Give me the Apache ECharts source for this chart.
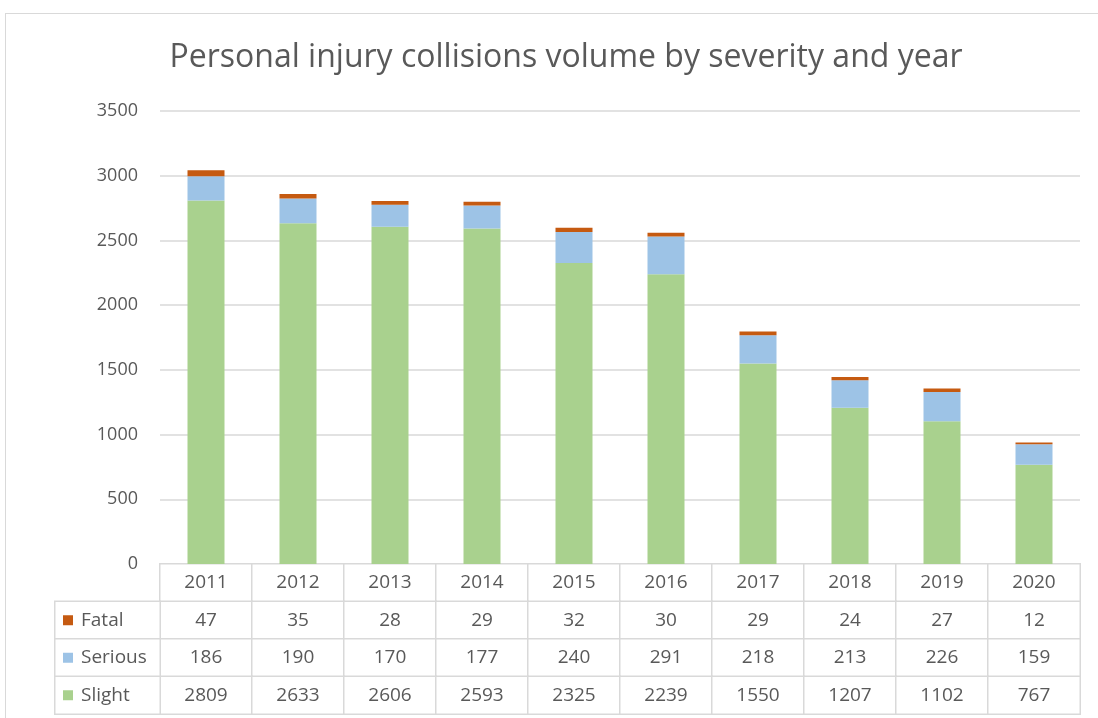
<!DOCTYPE html>
<html>
<head>
<meta charset="utf-8">
<script src="https://cdn.jsdelivr.net/npm/echarts@6/dist/echarts.min.js"></script>
<style>
html,body{margin:0;padding:0;background:#fff;}
#frame{position:absolute;left:5px;top:13px;width:1200px;height:800px;border-left:1px solid #d9d9d9;border-top:1px solid #d9d9d9;}
#chart{position:absolute;left:0;top:0;width:1098px;height:718px;}
</style>
</head>
<body>
<div id="frame"></div>
<div id="chart"></div>
<script>
const years = ['2011','2012','2013','2014','2015','2016','2017','2018','2019','2020'];
const fatal = [47,35,28,29,32,30,29,24,27,12];
const serious = [186,190,170,177,240,291,218,213,226,159];
const slight = [2809,2633,2606,2593,2325,2239,1550,1207,1102,767];
const severities = ['Fatal','Serious','Slight'];
const yTicks = {min:0, max:3500, interval:500};

const colors = {Fatal:'#C55A11', Serious:'#9DC3E6', Slight:'#A9D18E'};
const txt = '#595959';
const gridC = '#D9D9D9';
const FONT = 'Open Sans';

const rowsData = {Fatal:fatal, Serious:serious, Slight:slight};
const tableData = [];
years.forEach((y,i)=>{ tableData.push([i,0,Number(y)]); });
severities.forEach((s,r)=>{ rowsData[s].forEach((v,i)=>tableData.push([i,r+1,v])); });
const legendData = severities.map((s,r)=>[0,r,r]);

const chart = echarts.init(document.getElementById('chart'));
chart.setOption({
  animation:false,
  textStyle:{fontFamily:FONT},
  title:{
    text:'Personal injury collisions volume by severity and year',
    left:561, top:37, textAlign:'center',
    textStyle:{fontFamily:FONT, fontSize:32, fontWeight:'normal', color:txt}
  },
  grid:[
    {left:160, right:18, top:111, height:453},
    {left:160, right:18, top:564, height:150},
    {left:55, width:105, top:601.5, height:112.5}
  ],
  xAxis:[
    {gridIndex:0, type:'category', data:years, axisLine:{show:false}, axisTick:{show:false}, axisLabel:{show:false}},
    {gridIndex:1, type:'category', data:years, show:false},
    {gridIndex:2, type:'category', data:['legend'], show:false}
  ],
  yAxis:[
    {gridIndex:0, type:'value', min:yTicks.min, max:yTicks.max, interval:yTicks.interval,
      axisLine:{show:false}, axisTick:{show:false},
      axisLabel:{color:txt, fontSize:18, margin:22, fontFamily:FONT, formatter:v=>String(v)},
      splitLine:{lineStyle:{color:gridC, width:1.5}}},
    {gridIndex:1, type:'category', data:['Year'].concat(severities), inverse:true, show:false},
    {gridIndex:2, type:'category', data:severities, inverse:true, show:false}
  ],
  series:[
    {name:'Slight', type:'bar', stack:'t', data:slight, barWidth:37, itemStyle:{color:colors.Slight}, xAxisIndex:0, yAxisIndex:0},
    {name:'Serious', type:'bar', stack:'t', data:serious, barWidth:37, itemStyle:{color:colors.Serious}, xAxisIndex:0, yAxisIndex:0},
    {name:'Fatal', type:'bar', stack:'t', data:fatal, barWidth:37, itemStyle:{color:colors.Fatal}, xAxisIndex:0, yAxisIndex:0},
    {type:'heatmap', xAxisIndex:1, yAxisIndex:1, data:tableData, silent:true,
      itemStyle:{color:'#fff', borderColor:gridC, borderWidth:1.5},
      label:{show:true, color:txt, fontSize:19, fontFamily:FONT, formatter:p=>String(p.value[2])},
      emphasis:{disabled:true}},
    {type:'heatmap', xAxisIndex:2, yAxisIndex:2, data:legendData, silent:true,
      itemStyle:{color:'#fff', borderColor:gridC, borderWidth:1.5},
      label:{show:true, position:'insideLeft', distance:9, color:txt, fontSize:19, fontFamily:FONT,
        formatter:p=>'{m'+p.value[2]+'|}{t|'+severities[p.value[2]]+'}',
        rich:{
          m0:{backgroundColor:colors.Fatal, width:10, height:10},
          m1:{backgroundColor:colors.Serious, width:10, height:10},
          m2:{backgroundColor:colors.Slight, width:10, height:10},
          t:{color:txt, fontSize:19, fontFamily:FONT, padding:[0,0,0,8]}
        }},
      emphasis:{disabled:true}}
  ]
});
</script>
</body>
</html>
